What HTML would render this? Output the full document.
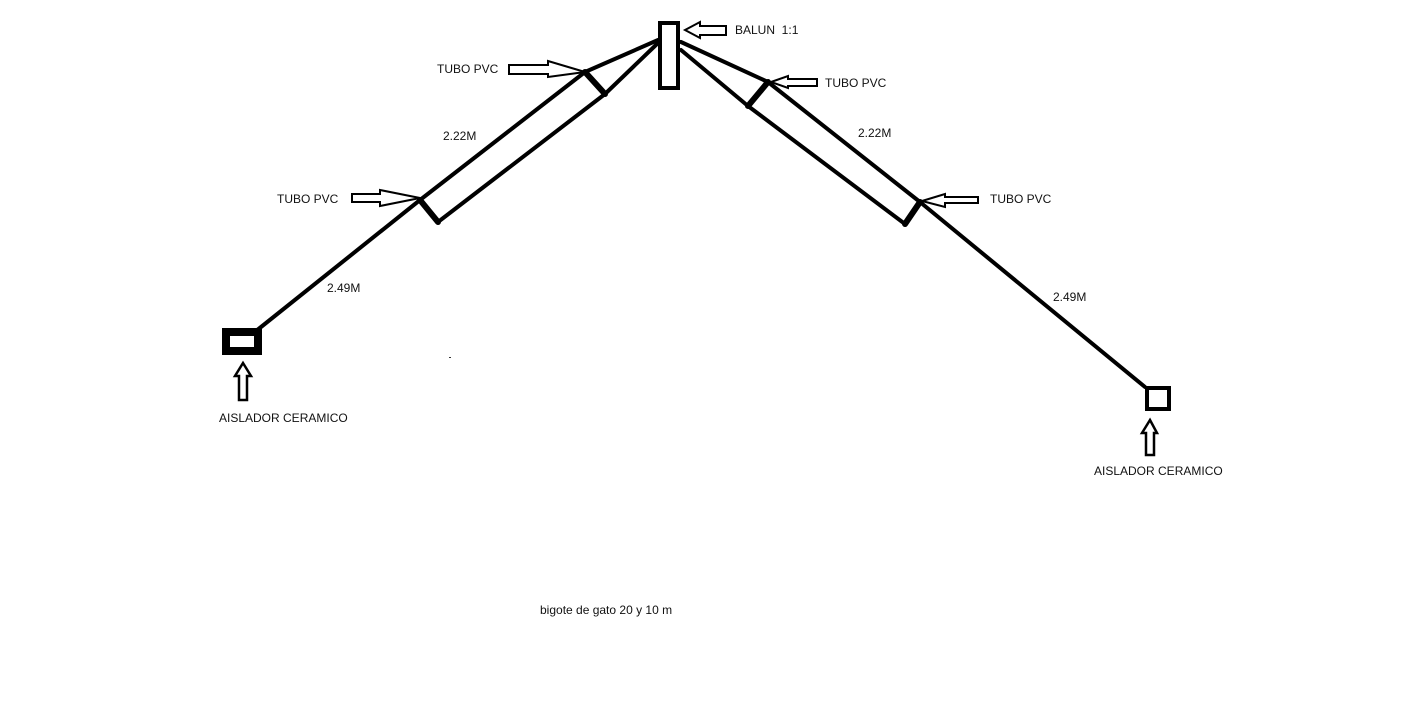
<!DOCTYPE html>
<html><head><meta charset="utf-8"><style>
html,body{margin:0;padding:0;background:#fff;}
svg{display:block;}
text{font-family:"Liberation Sans",sans-serif;font-size:12px;fill:#111;}
</style></head><body>
<svg width="1410" height="721" viewBox="0 0 1410 721" xmlns="http://www.w3.org/2000/svg">
<g stroke="#000" fill="none" stroke-linecap="round">
<line x1="256" y1="331" x2="420" y2="200" stroke-width="4"/>
<line x1="420" y1="200" x2="585" y2="72" stroke-width="4"/>
<line x1="438" y1="222" x2="605" y2="94" stroke-width="4"/>
<line x1="420" y1="200" x2="438" y2="222" stroke-width="6"/>
<line x1="585" y1="72" x2="605" y2="94" stroke-width="6"/>
<line x1="585" y1="72" x2="658" y2="40" stroke-width="4"/>
<line x1="605" y1="94" x2="658" y2="43" stroke-width="4"/>
<rect x="660" y="23" width="18" height="65" stroke-width="4" fill="#fff"/>
<line x1="681" y1="42" x2="768" y2="82" stroke-width="4"/>
<line x1="681" y1="50" x2="748" y2="106" stroke-width="4"/>
<line x1="768" y1="82" x2="748" y2="106" stroke-width="6"/>
<line x1="768" y1="82" x2="920" y2="202" stroke-width="4"/>
<line x1="748" y1="106" x2="905" y2="224" stroke-width="4"/>
<line x1="920" y1="202" x2="905" y2="224" stroke-width="6"/>
<line x1="920" y1="202" x2="1145" y2="387" stroke-width="4"/>
<rect x="226" y="332" width="32" height="19" stroke-width="8" fill="#fff" stroke-linecap="butt"/>
<rect x="1147" y="388" width="22" height="21" stroke-width="4" fill="#fff"/>
</g>
<g stroke="#000" fill="#fff" stroke-width="2" stroke-linejoin="miter">
<polygon points="685,30 700,22 700,26 726,26 726,35 700,35 700,38"/>
<polygon points="509,65 548,65 548,61 585,72 548,77 548,74 509,74"/>
<polygon points="771,82 788,76 788,79 817,79 817,86 788,86 788,88"/>
<polygon points="352,194 380,194 380,190 420,198 380,206 380,202 352,202"/>
<polygon points="922,201 945,194 945,197 978,197 978,203 945,203 945,207"/>
<polygon points="243,363 251,376 247,376 247,400 239,400 239,376 235,376" stroke-width="2.5"/>
<polygon points="1150,420 1157,433 1154,433 1154,455 1146,455 1146,433 1142,433" stroke-width="2.5"/>
</g>
<text x="735" y="34">BALUN&#160; 1:1</text>
<text x="437" y="73">TUBO PVC</text>
<text x="825" y="87">TUBO PVC</text>
<text x="443" y="140">2.22M</text>
<text x="858" y="137">2.22M</text>
<text x="277" y="203">TUBO PVC</text>
<text x="990" y="203">TUBO PVC</text>
<text x="327" y="292">2.49M</text>
<text x="1053" y="301">2.49M</text>
<text x="219" y="422">AISLADOR CERAMICO</text>
<text x="1094" y="475">AISLADOR CERAMICO</text>
<text x="540" y="614">bigote de gato 20 y 10 m</text>
<rect x="449" y="357" width="2" height="1" fill="#333"/>
</svg>
</body></html>
